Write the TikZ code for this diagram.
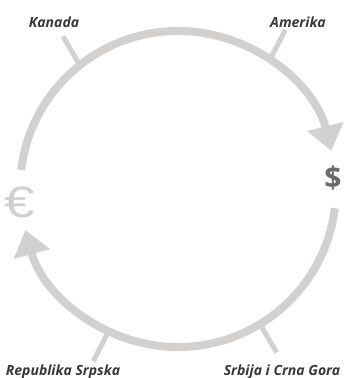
\documentclass[tikz,border=0pt]{standalone}
\usepackage{fontspec}
\setmainfont{Open Sans}
\newfontfamily\eurofont{Liberation Sans}
\usetikzlibrary{arrows.meta,calc}
\definecolor{ring}{HTML}{D3D1CF}
\definecolor{labeltext}{HTML}{383838}
\definecolor{dollar}{HTML}{6B6967}
\definecolor{euro}{HTML}{D2D0CE}
\tikzset{
  ringline/.style={draw=ring, line width=8pt},
  ringarrow/.style={ringline, -{Triangle[width=36pt,length=25pt]}},
  tick/.style={draw=ring, line width=5pt},
  country/.style={font=\bfseries\itshape\fontsize{14}{16}\selectfont, text=labeltext, inner sep=0pt},
}
\begin{document}
\begin{tikzpicture}[x=1pt,y=1pt]
\useasboundingbox (0,0) rectangle (352,378);
\coordinate (c) at (178,189);
% labels
\node[country] (kanada) at (54,356) {Kanada};
\node[country] (amerika) at (298,356) {Amerika};
\node[country, anchor=base] (republika) at (63,2) {Republika Srpska};
\node[country, anchor=base] (srbija) at (282,2) {Srbija i Crna Gora};
% currency symbols
\node[inner sep=0pt, text=dollar, font=\bfseries\fontsize{30}{30}\selectfont] (usd) at (333,200) {\$};
\node[inner sep=0pt, text=euro, font=\eurofont\fontsize{44}{44}\selectfont, xscale=1.25, transform shape] (eur) at (20,176) {€};
% ring arrows
\draw[ringarrow] ($(c)+(173:158)$) arc[start angle=173, end angle=14, radius=158];
\draw[ringarrow] ($(c)+(-7:158)$) arc[start angle=-7, end angle=-165, radius=158];
% tick coordinates
\coordinate (kin) at ($(c)+(128.5:157)$);
\coordinate (kout) at ($(c)+(127:191)$);
\coordinate (ain) at ($(c)+(54.5:157)$);
\coordinate (aout) at ($(c)+(56:192)$);
\coordinate (rin) at ($(c)+(244:157)$);
\coordinate (rout) at ($(c)+(243.8:192)$);
\coordinate (sin) at ($(c)+(-58.7:157)$);
\coordinate (sout) at ($(c)+(-58.9:191)$);
\draw[tick] (kin) -- (kout);
\draw[tick] (ain) -- (aout);
\draw[tick] (rin) -- (rout);
\draw[tick] (sin) -- (sout);
\end{tikzpicture}
\end{document}
